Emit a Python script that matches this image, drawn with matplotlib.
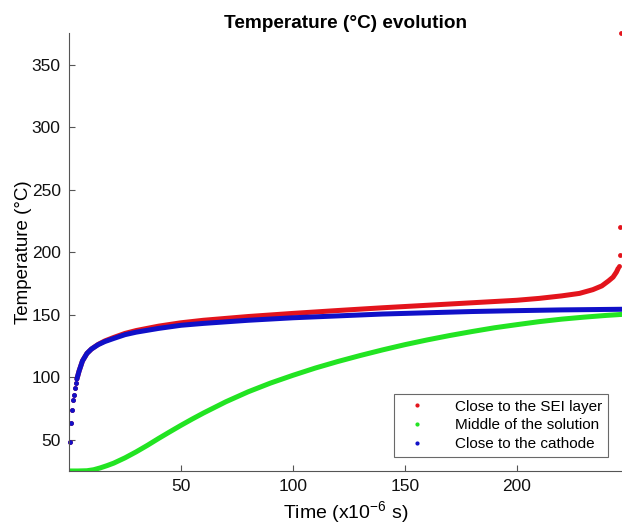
import matplotlib.pyplot as plt
import numpy as np

plt.rcParams['font.family'] = ['Liberation Sans', 'DejaVu Sans']
plt.rcParams['mathtext.fontset'] = 'custom'
plt.rcParams['mathtext.rm'] = 'Liberation Sans'

# Values (time in x10^-6 s, temperature in °C)
t_cathode = [0.5, 0.9, 1.3, 1.7, 2.1, 2.6, 3.0, 3.5, 4.5, 6, 8, 10, 13, 16, 20,
             25, 30, 40, 50, 60, 80, 100, 120, 140, 160, 180, 200, 220, 247]
T_cathode = [48, 63, 73.5, 81.5, 86, 91.5, 95.5, 98.5, 105, 113, 119, 122.5, 126,
             128.5, 131, 134, 136, 139, 141.5, 143, 145.5, 147.5, 149, 150.5,
             151.5, 152.5, 153.2, 153.8, 154.3]

t_sei = [0.5, 0.9, 1.3, 1.7, 2.1, 2.6, 3.0, 3.5, 4.5, 6, 8, 10, 13, 16, 20, 25,
         30, 40, 50, 60, 80, 100, 120, 140, 160, 180, 200, 210, 220, 228, 234,
         238, 241, 243, 244.5, 245.3, 245.7, 245.9, 246.1, 246.6]
T_sei = [48, 63, 73.5, 81.5, 86, 91.5, 95.5, 98.5, 105, 113, 119, 122.5, 126.2,
         129, 131.8, 135, 137.3, 140.8, 143.5, 145.5, 148.5, 151, 153.3, 155.5,
         157.5, 159.5, 161.5, 163, 165, 167, 170, 173, 177, 180, 184, 187, 189,
         198, 220, 375]

t_middle = [0, 4, 8, 11, 14, 17, 20, 25, 30, 35, 40, 45, 50, 55, 60, 70, 80, 90,
            100, 110, 120, 130, 140, 150, 160, 170, 180, 190, 200, 210, 220, 230,
            240, 247]
T_middle = [25, 25, 25.2, 26, 27.5, 29.3, 31.3, 35.5, 40.3, 45.5, 51, 56.3, 61.5,
            66.5, 71.3, 80.3, 88.3, 95.3, 101.5, 107.3, 112.5, 117.3, 121.8, 126,
            129.8, 133.3, 136.5, 139.5, 142, 144.4, 146.4, 148, 149.4, 150.2]

red = '#e3141c'
green = '#22e422'
blue = '#1010c8'

fig = plt.figure(figsize=(6.22, 5.28), dpi=100)
ax = fig.add_axes([0.111, 0.108, 0.889, 0.829])


def draw(t, T, color, label, t_line=3.4, t_end=1e9):
    t = np.asarray(t, float)
    T = np.asarray(T, float)
    m = (t >= t_line) & (t <= t_end)
    ax.plot(t[m], T[m], '-', color=color, lw=3.6, solid_capstyle='round')
    # isolated time steps that the thick trace does not cover
    ax.plot(t[~m], T[~m], '.', color=color, ms=7, mew=0, clip_on=False)
    ax.plot([], [], '.', color=color, ms=4, label=label)


draw(t_sei, T_sei, red, 'Close to the SEI layer', t_end=245.4)
draw(t_middle, T_middle, green, 'Middle of the solution', t_line=0)
draw(t_cathode, T_cathode, blue, 'Close to the cathode')

ax.set_xlim(0, 247)
ax.set_ylim(25, 375)
ax.set_xticks([50, 100, 150, 200])
ax.set_yticks([50, 100, 150, 200, 250, 300, 350])

for s in ['top', 'right']:
    ax.spines[s].set_visible(False)
for s in ['left', 'bottom']:
    ax.spines[s].set_color('#555555')
    ax.spines[s].set_linewidth(0.8)
ax.tick_params(direction='in', length=4, width=0.8, color='#555555',
               labelsize=12.5, labelcolor='#111111', pad=6)

ax.set_title('Temperature (°C) evolution', fontsize=13.7, fontweight='bold', pad=4)
ax.set_xlabel('Time (x10$^{\\mathregular{-6}}$ s)', fontsize=14, labelpad=4)
ax.set_ylabel('Temperature (°C)', fontsize=13.5, labelpad=0)

leg = ax.legend(loc='lower right', bbox_to_anchor=(0.975, 0.032), borderaxespad=0,
                fontsize=11, frameon=True, fancybox=False, handlelength=2.2,
                handletextpad=1.4, borderpad=0.4, labelspacing=0.3)
leg.get_frame().set_edgecolor('#444444')
leg.get_frame().set_linewidth(0.8)

fig.savefig('out.png', dpi=100)
